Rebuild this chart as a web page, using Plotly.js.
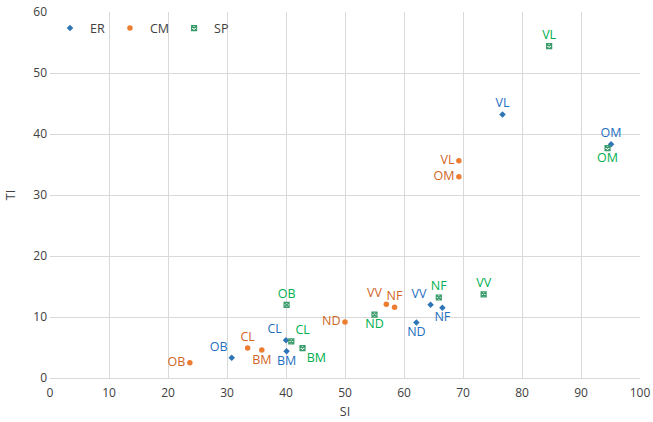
<!DOCTYPE html>
<html><head><meta charset="utf-8">
<script src="https://cdn.plot.ly/plotly-3.0.1.min.js"></script>
<style>body{margin:0;background:#fff}#c{width:653px;height:422px}</style>
</head><body><div id="c"></div>
<script>
const labels = ["OB","CL","BM","ND","VV","NF","VL","OM"];
const erSI = [30.8, 40.0, 40.1, 62.1, 64.5, 66.5, 76.7, 95.1];
const erTI = [3.3, 6.2, 4.4, 9.1, 12.0, 11.5, 43.2, 38.3];
const cmSI = [23.7, 33.5, 35.9, 50.0, 57.0, 58.4, 69.3, 69.3];
const cmTI = [2.5, 4.9, 4.6, 9.2, 12.1, 11.6, 35.6, 33.0];
const spSI = [40.1, 40.9, 42.8, 55.0, 73.5, 65.9, 84.6, 94.5];
const spTI = [12.0, 6.0, 4.9, 10.4, 13.7, 13.2, 54.4, 37.7];
const xTicks = [0,10,20,30,40,50,60,70,80,90,100];
const yTicks = [0,10,20,30,40,50,60];

const erPos = ["top left","top left","bottom center","bottom center","top left","bottom center","top center","top center"];
const cmPos = ["middle left","top center","bottom center","middle left","top left","top center","middle left","middle left"];
const spPos = ["top center","top right","bottom right","bottom center","top center","top center","top center","bottom center"];

const font = "Open Sans, Liberation Sans, sans-serif";
const traces = [
  {name:"ER", x:erSI, y:erTI, text:labels, textposition:erPos, mode:"markers+text", type:"scatter",
   marker:{symbol:"diamond", size:5, color:"#2E75B6"}, textfont:{color:"#1F6FBF", size:12.5, family:font}},
  {name:"CM", x:cmSI, y:cmTI, text:labels, textposition:cmPos, mode:"markers+text", type:"scatter",
   marker:{symbol:"circle", size:5.5, color:"#ED7D31"}, textfont:{color:"#D0651F", size:12.5, family:font}},
  {name:"SP", x:spSI, y:spTI, text:labels, textposition:spPos, mode:"markers+text", type:"scatter",
   marker:{symbol:"square-x-open", size:5, color:"#3A9B6A", line:{width:1.2}}, textfont:{color:"#00B050", size:12.5, family:font}}
];
const layout = {
  width:653, height:422,
  margin:{l:50, r:13, t:12, b:44},
  paper_bgcolor:"#fff", plot_bgcolor:"#fff",
  font:{family:font, color:"#404040", size:12},
  showlegend:true,
  legend:{orientation:"h", x:0.0, y:0.955, yanchor:"middle", xanchor:"left", bgcolor:"rgba(0,0,0,0)",
          font:{size:12.5, color:"#404040"}, itemwidth:30, tracegroupgap:0},
  xaxis:{range:[0,100], tickvals:xTicks, ticktext:xTicks.map(String), showgrid:true, gridcolor:"#D9D9D9",
         zeroline:false, showline:true, linecolor:"#D9D9D9", ticks:"", ticklabelstandoff:4,
         title:{text:"SI", standoff:6, font:{size:12.5, color:"#404040"}}},
  yaxis:{range:[0,60], tickvals:yTicks, ticktext:yTicks.map(String), showgrid:true, gridcolor:"#D9D9D9",
         zeroline:false, showline:false, ticks:"", ticklabelstandoff:2,
         title:{text:"TI", standoff:14, font:{size:12.5, color:"#404040"}}}
};
Plotly.newPlot("c", traces, layout, {staticPlot:true});
</script></body></html>
